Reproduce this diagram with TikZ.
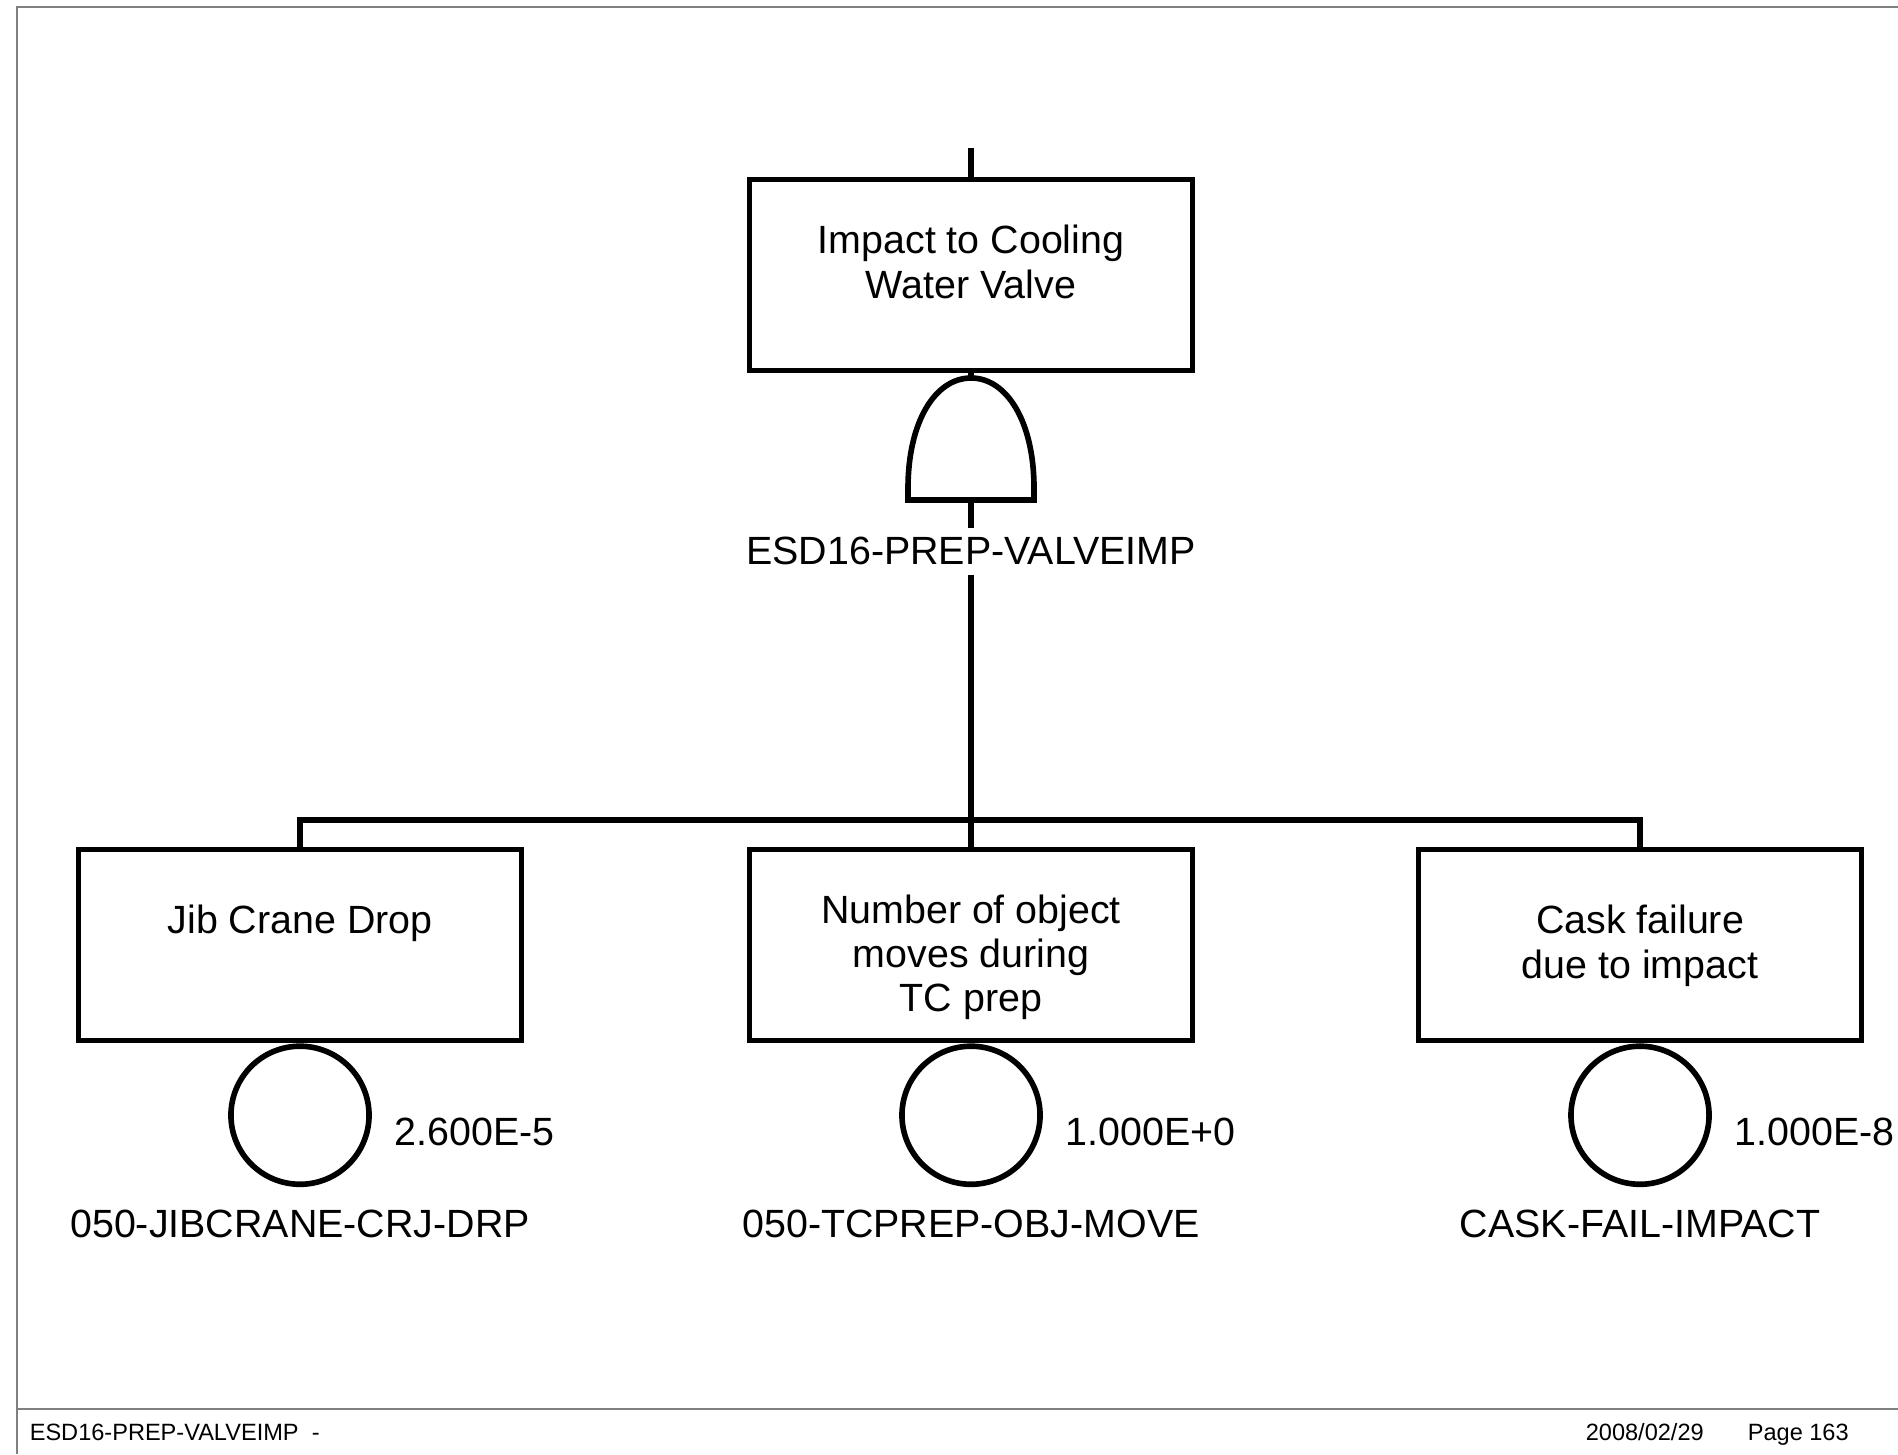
\documentclass[tikz,border=0pt]{standalone}
\usepackage{fontspec}
\setmainfont{Liberation Sans}
\usepackage{tikz}
\usetikzlibrary{positioning, calc}

\begin{document}
\begin{tikzpicture}[x=0.01cm, y=-0.01cm, line width=1.6pt,
  every node/.style={font=\fontsize{11.2}{12.6}\selectfont},
  event/.style={draw, rectangle, minimum width=4.43cm, minimum height=1.91cm, inner sep=0pt},
  evtext/.style={anchor=base, align=center, inner sep=0pt},
  basic/.style={draw, circle, minimum size=1.38cm, inner sep=0pt},
  prob/.style={anchor=base west, inner sep=0pt},
  evname/.style={anchor=base, inner sep=0pt},
  gatelbl/.style={fill=white, inner sep=0pt, minimum height=0.47cm},
  pageline/.style={draw=gray, line width=0.6pt},
  foot/.style={anchor=base west, inner sep=0pt, font=\fontsize{6.7}{8}\selectfont}]
  \useasboundingbox (0,0) rectangle (1898,1454);

  % Page frame and footer
  \draw[pageline] (17,1454) -- (17,7) -- (1898,7);
  \draw[pageline] (17,1409) -- (1898,1409);
  \node[foot] (ftitle) at (27,1440) {ESD16-PREP-VALVEIMP\ \ -};
  \node[foot] (fdate) at (1583,1440) {2008/02/29};
  \node[foot] (fpage) at (1745,1440) {Page 163};

  % Top event (text anchored on its last line)
  \node[event] (top) at (971,275) {};
  \node[evtext] (toptxt) at ($(top.north)+(0,121.5)$) {Impact to Cooling\\Water Valve};
  \coordinate (in) at (971,148);
  \draw (in) -- (top.north);

  % AND gate
  \coordinate (gate) at (971,500);
  \coordinate (apex) at (971,378);
  \draw (top.south) -- (apex);
  \draw[shift={(gate)}] (-63,0) -- (-63,-12)
    .. controls (-63,-78) and (-36,-122) .. (0,-122)
    .. controls (36,-122) and (63,-78) .. (63,-12) -- (63,0) -- cycle;
  \coordinate (bus) at (971,820);
  \draw (gate) -- (bus);
  \node[gatelbl] (gatetxt) at (971,551) {ESD16-PREP-VALVEIMP};

  % Child events
  \node[event] (jib) at (300,945) {};
  \node[event] (moves) at (971,945) {};
  \node[event] (cask) at (1640,945) {};
  \node[evtext] (jibtxt) at ($(jib.north)+(0,86.5)$) {Jib Crane Drop};
  \node[evtext] (movestxt) at ($(moves.north)+(0,165)$) {Number of object\\moves during\\TC prep};
  \node[evtext] (casktxt) at ($(cask.north)+(0,131.5)$) {Cask failure\\due to impact};
  \draw (jib.north) |- (bus) -| (cask.north);
  \draw (bus) -- (moves.north);

  % Basic events
  \node[basic, below=0pt of jib] (jibev) {};
  \node[basic, below=0pt of moves] (movesev) {};
  \node[basic, below=0pt of cask] (caskev) {};
  \node[prob] (jibp) at ($(jibev.center)+(92,30)$) {2.600E-5};
  \node[prob] (movesp) at ($(movesev.center)+(92,30)$) {1.000E+0};
  \node[prob] (caskp) at ($(caskev.center)+(92,30)$) {1.000E-8};
  \node[evname] (jibn) at ($(jibev.center)+(0,122)$) {050-JIBCRANE-CRJ-DRP};
  \node[evname] (movesn) at ($(movesev.center)+(0,122)$) {050-TCPREP-OBJ-MOVE};
  \node[evname] (caskn) at ($(caskev.center)+(0,122)$) {CASK-FAIL-IMPACT};

\end{tikzpicture}
\end{document}
